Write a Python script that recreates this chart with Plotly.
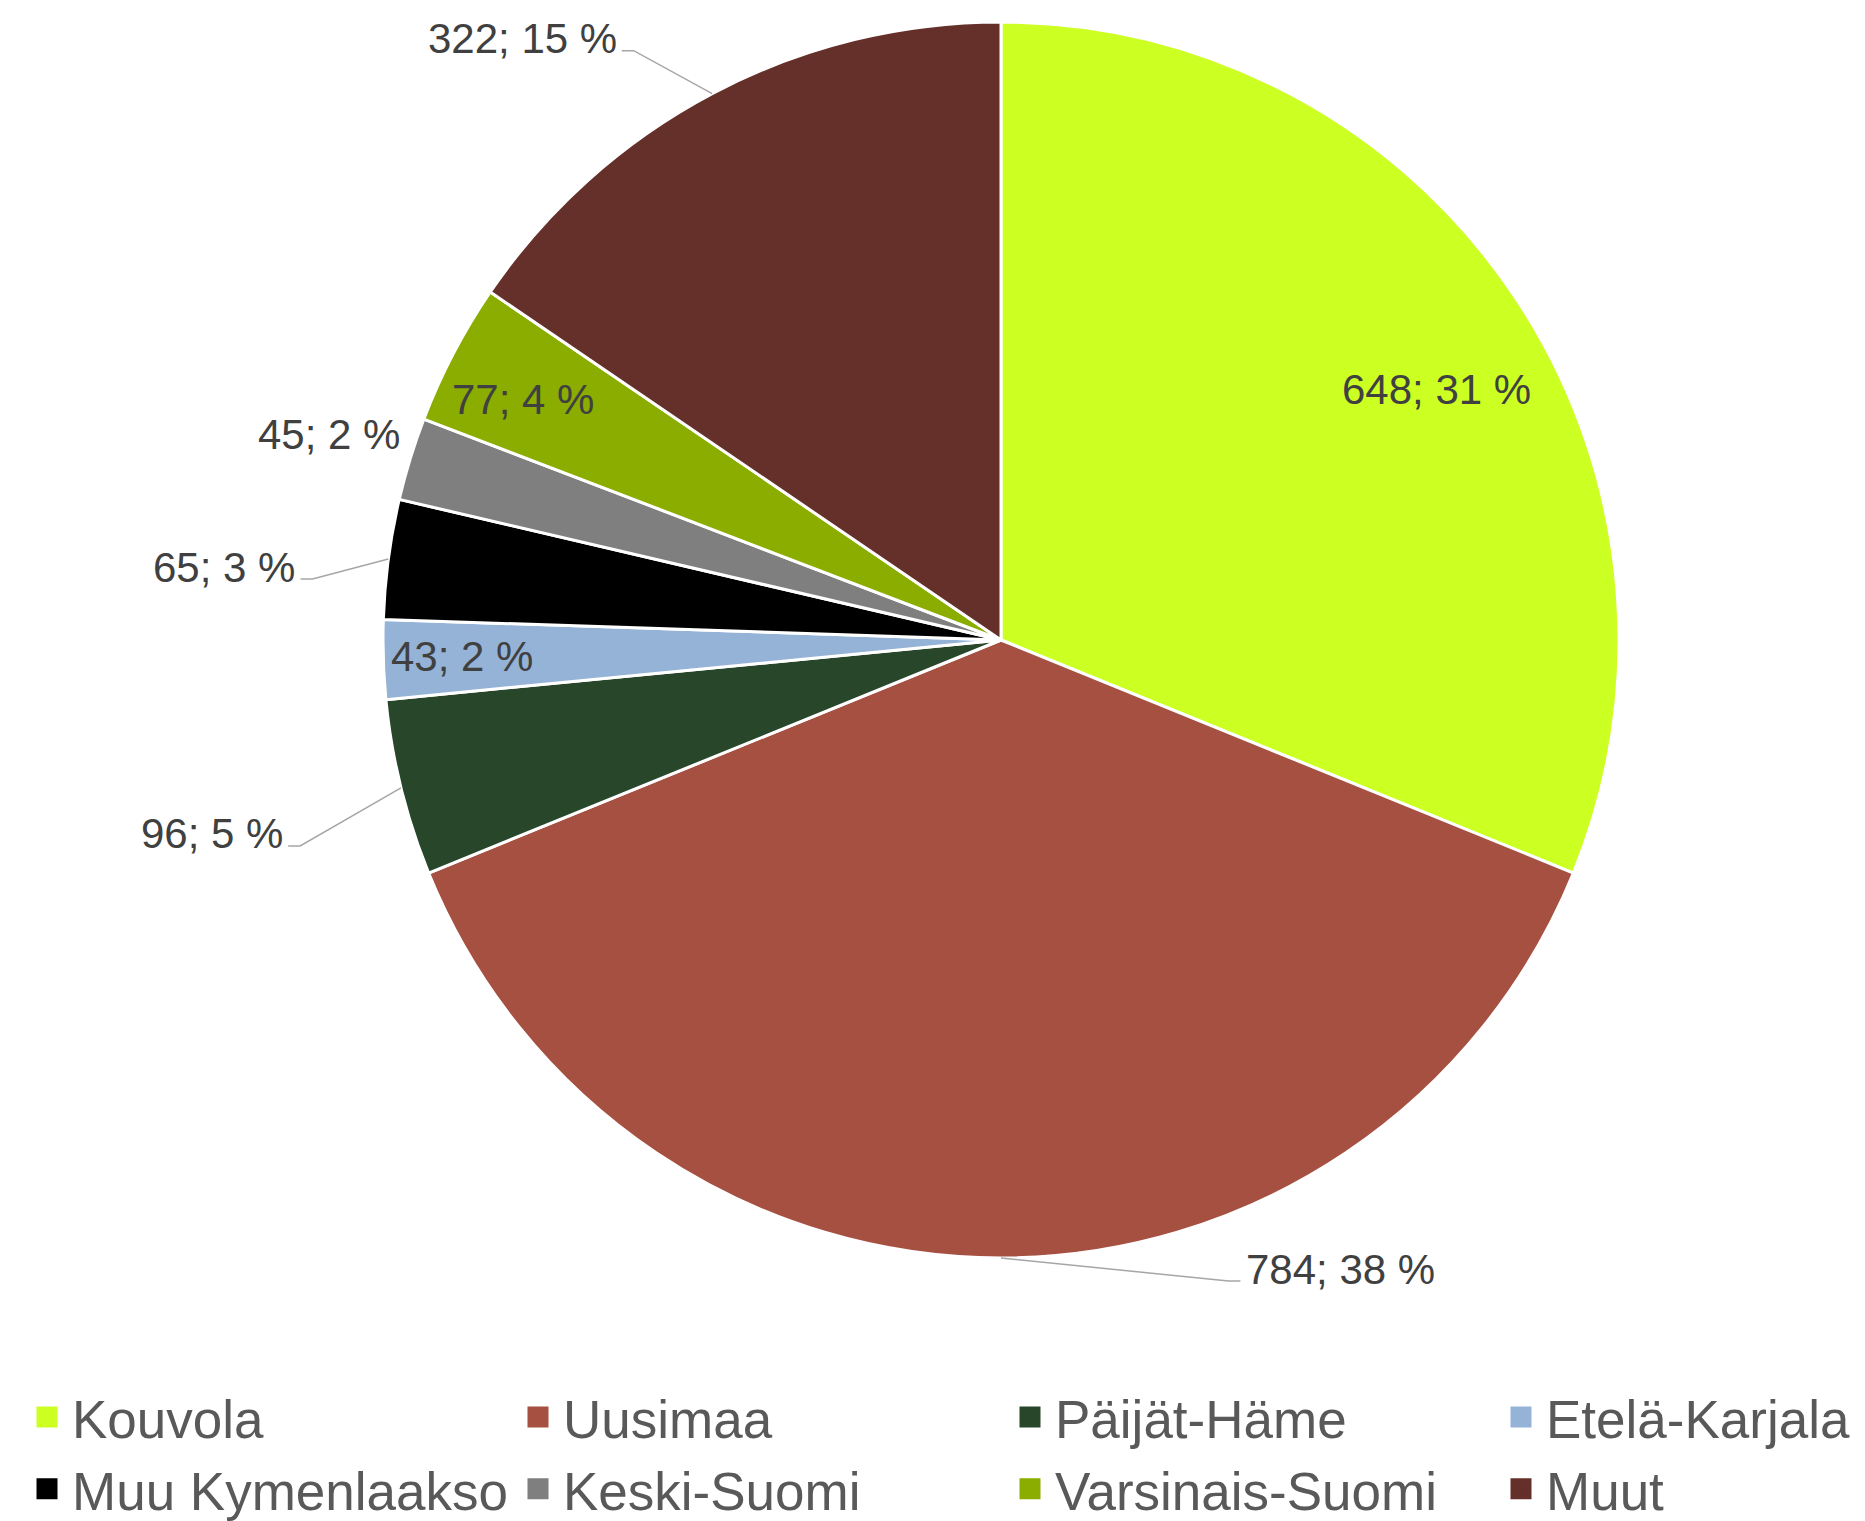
import math
import plotly.graph_objects as go

# ---- data ----
categories = ["Kouvola", "Uusimaa", "Päijät-Häme", "Etelä-Karjala",
              "Muu Kymenlaakso", "Keski-Suomi", "Varsinais-Suomi", "Muut"]
values = [648, 784, 96, 43, 65, 45, 77, 322]
colors = ["#CCFF22", "#A65042", "#28462A", "#95B3D7",
          "#000000", "#7F7F7F", "#8AAD00", "#652F2A"]

# ---- layout constants ----
W, H = 1865, 1521
dom_x = [383 / W, 1619 / W]
dom_y = [1 - 1258 / H, 1 - 22 / H]
FONT = "Liberation Sans, Arial, sans-serif"
LABEL_SIZE = 42

# label placement (pixel offsets from the slice's outer edge at mid-angle) and leader lines
label_offsets = [(-77, 94), (339, 11), (-189, 46), (79, -3), (-164, 8), (-81, -24), (70, 46), (-190, -55)]
label_leader = [False, True, True, False, True, False, False, True]

# legend: 4 columns, 2 rows (row-major order)
legend_cols_px = [22, 513, 1005, 1496]
legend_top_px = 1376

# approx. Arial advance widths (em) for label text width estimation
CHAR_W = {c: 0.556 for c in "0123456789"}
CHAR_W.update({";": 0.278, " ": 0.278, "%": 0.889})

fig = go.Figure()
fig.add_trace(go.Pie(
    labels=categories, values=values, sort=False, direction="clockwise", rotation=0,
    marker=dict(colors=colors, line=dict(color="white", width=3)),
    textinfo="none", hoverinfo="label+value+percent", showlegend=False,
    domain=dict(x=dom_x, y=dom_y),
))

# legend entries (square swatches)
for i, (name, col) in enumerate(zip(categories, colors)):
    lg = "legend" if i % 4 == 0 else f"legend{i % 4 + 1}"
    fig.add_trace(go.Scatter(
        x=[None], y=[None], mode="markers", name=name, legend=lg,
        marker=dict(symbol="square", size=16, color=col, line=dict(color=col, width=5)),
        showlegend=True, hoverinfo="skip",
    ))


def px(x, y):
    return x / W, 1 - y / H


# labels computed from the data through the pie geometry
total = sum(values)
cx = (dom_x[0] + dom_x[1]) / 2 * W
cy = (1 - (dom_y[0] + dom_y[1]) / 2) * H
R = min((dom_x[1] - dom_x[0]) * W, (dom_y[1] - dom_y[0]) * H) / 2
cum = 0
annotations = []
shapes = []
for v, (ox, oy), lead in zip(values, label_offsets, label_leader):
    mid = (cum + v / 2) / total * 2 * math.pi
    cum += v
    ex = cx + R * math.sin(mid)
    ey = cy - R * math.cos(mid)
    text = f"{v}; {round(100 * v / total)} %"
    lx, ly = ex + ox, ey + oy
    ax_, ay_ = px(lx, ly)
    annotations.append(dict(
        x=ax_, y=ay_, xref="paper", yref="paper", text=text, showarrow=False,
        xanchor="center", yanchor="middle",
        font=dict(family=FONT, size=LABEL_SIZE, color="#404040"),
    ))
    if lead:
        tw = sum(CHAR_W[c] for c in text) * LABEL_SIZE
        side = 1 if lx < ex else -1  # label left of slice -> line attaches to its right edge
        edge = lx + side * tw / 2
        yl = ly + 12
        p_end = px(edge + side * 5, yl)
        p_elb = px(edge + side * 17, yl)
        p_e = px(ex, ey)
        shapes.append(dict(
            type="path", xref="paper", yref="paper",
            path=f"M {p_e[0]},{p_e[1]} L {p_elb[0]},{p_elb[1]} L {p_end[0]},{p_end[1]}",
            line=dict(color="#A6A6A6", width=1.5),
        ))

legend_style = dict(
    orientation="v", xanchor="left", yanchor="top", y=1 - legend_top_px / H,
    font=dict(family=FONT, size=53, color="#595959"), itemwidth=40,
    itemclick=False, itemdoubleclick=False, bgcolor="rgba(0,0,0,0)",
)

fig.update_layout(
    width=W, height=H, autosize=False,
    margin=dict(l=0, r=0, t=0, b=0, autoexpand=False),
    paper_bgcolor="white", plot_bgcolor="white",
    xaxis=dict(visible=False), yaxis=dict(visible=False),
    annotations=annotations, shapes=shapes,
    legend=dict(x=legend_cols_px[0] / W, **legend_style),
    legend2=dict(x=legend_cols_px[1] / W, **legend_style),
    legend3=dict(x=legend_cols_px[2] / W, **legend_style),
    legend4=dict(x=legend_cols_px[3] / W, **legend_style),
    font=dict(family=FONT),
)

fig.write_html("out.html", config={"displayModeBar": False},
               post_script="document.body.style.margin='0';document.body.style.overflow='hidden';")
